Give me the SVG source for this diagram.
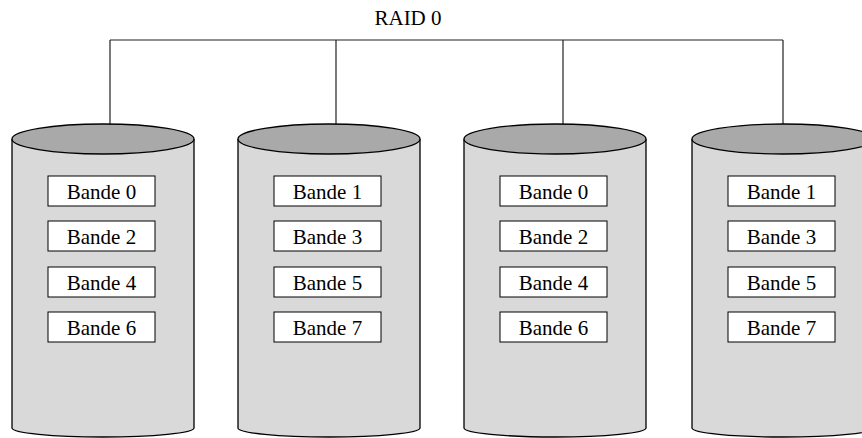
<svg xmlns="http://www.w3.org/2000/svg" width="862" height="438" viewBox="0 0 862 438">
<style>
.body{fill:#d9d9d9;stroke:#000;stroke-width:1.3}
.top{fill:#a9a9a9;stroke:#000;stroke-width:1.3}
.box{fill:#fff;stroke:#000;stroke-width:1}
.t{font-family:"Liberation Serif","Times New Roman",serif;font-size:21px;fill:#000;text-anchor:middle}
.conn{fill:none;stroke:#222;stroke-width:1.2}
</style>
<defs>
<g id="cyl">
<path class="body" d="M0,139 V428 A91,9 0 0 0 182,428 V139"/>
<ellipse class="top" cx="91" cy="139" rx="91" ry="15"/>
</g>
</defs>
<text class="t" x="408" y="25">RAID 0</text>
<g id="connectors">
<path class="conn" d="M110,40 H783 M110,40 V124 M336,40 V124 M563,40 V124 M783,40 V124"/>
</g>
<g id="disk1" transform="translate(12,0)">
<use href="#cyl"/>
<rect class="box" x="36" y="176" width="107" height="30"/><text class="t" x="89.5" y="199">Bande 0</text>
<rect class="box" x="36" y="221" width="107" height="30"/><text class="t" x="89.5" y="244">Bande 2</text>
<rect class="box" x="36" y="267" width="107" height="30"/><text class="t" x="89.5" y="290">Bande 4</text>
<rect class="box" x="36" y="312" width="107" height="30"/><text class="t" x="89.5" y="335">Bande 6</text>
</g>
<g id="disk2" transform="translate(238,0)">
<use href="#cyl"/>
<rect class="box" x="36" y="176" width="107" height="30"/><text class="t" x="89.5" y="199">Bande 1</text>
<rect class="box" x="36" y="221" width="107" height="30"/><text class="t" x="89.5" y="244">Bande 3</text>
<rect class="box" x="36" y="267" width="107" height="30"/><text class="t" x="89.5" y="290">Bande 5</text>
<rect class="box" x="36" y="312" width="107" height="30"/><text class="t" x="89.5" y="335">Bande 7</text>
</g>
<g id="disk3" transform="translate(464,0)">
<use href="#cyl"/>
<rect class="box" x="36" y="176" width="107" height="30"/><text class="t" x="89.5" y="199">Bande 0</text>
<rect class="box" x="36" y="221" width="107" height="30"/><text class="t" x="89.5" y="244">Bande 2</text>
<rect class="box" x="36" y="267" width="107" height="30"/><text class="t" x="89.5" y="290">Bande 4</text>
<rect class="box" x="36" y="312" width="107" height="30"/><text class="t" x="89.5" y="335">Bande 6</text>
</g>
<g id="disk4" transform="translate(692,0)">
<use href="#cyl"/>
<rect class="box" x="36" y="176" width="107" height="30"/><text class="t" x="89.5" y="199">Bande 1</text>
<rect class="box" x="36" y="221" width="107" height="30"/><text class="t" x="89.5" y="244">Bande 3</text>
<rect class="box" x="36" y="267" width="107" height="30"/><text class="t" x="89.5" y="290">Bande 5</text>
<rect class="box" x="36" y="312" width="107" height="30"/><text class="t" x="89.5" y="335">Bande 7</text>
</g>
</svg>
